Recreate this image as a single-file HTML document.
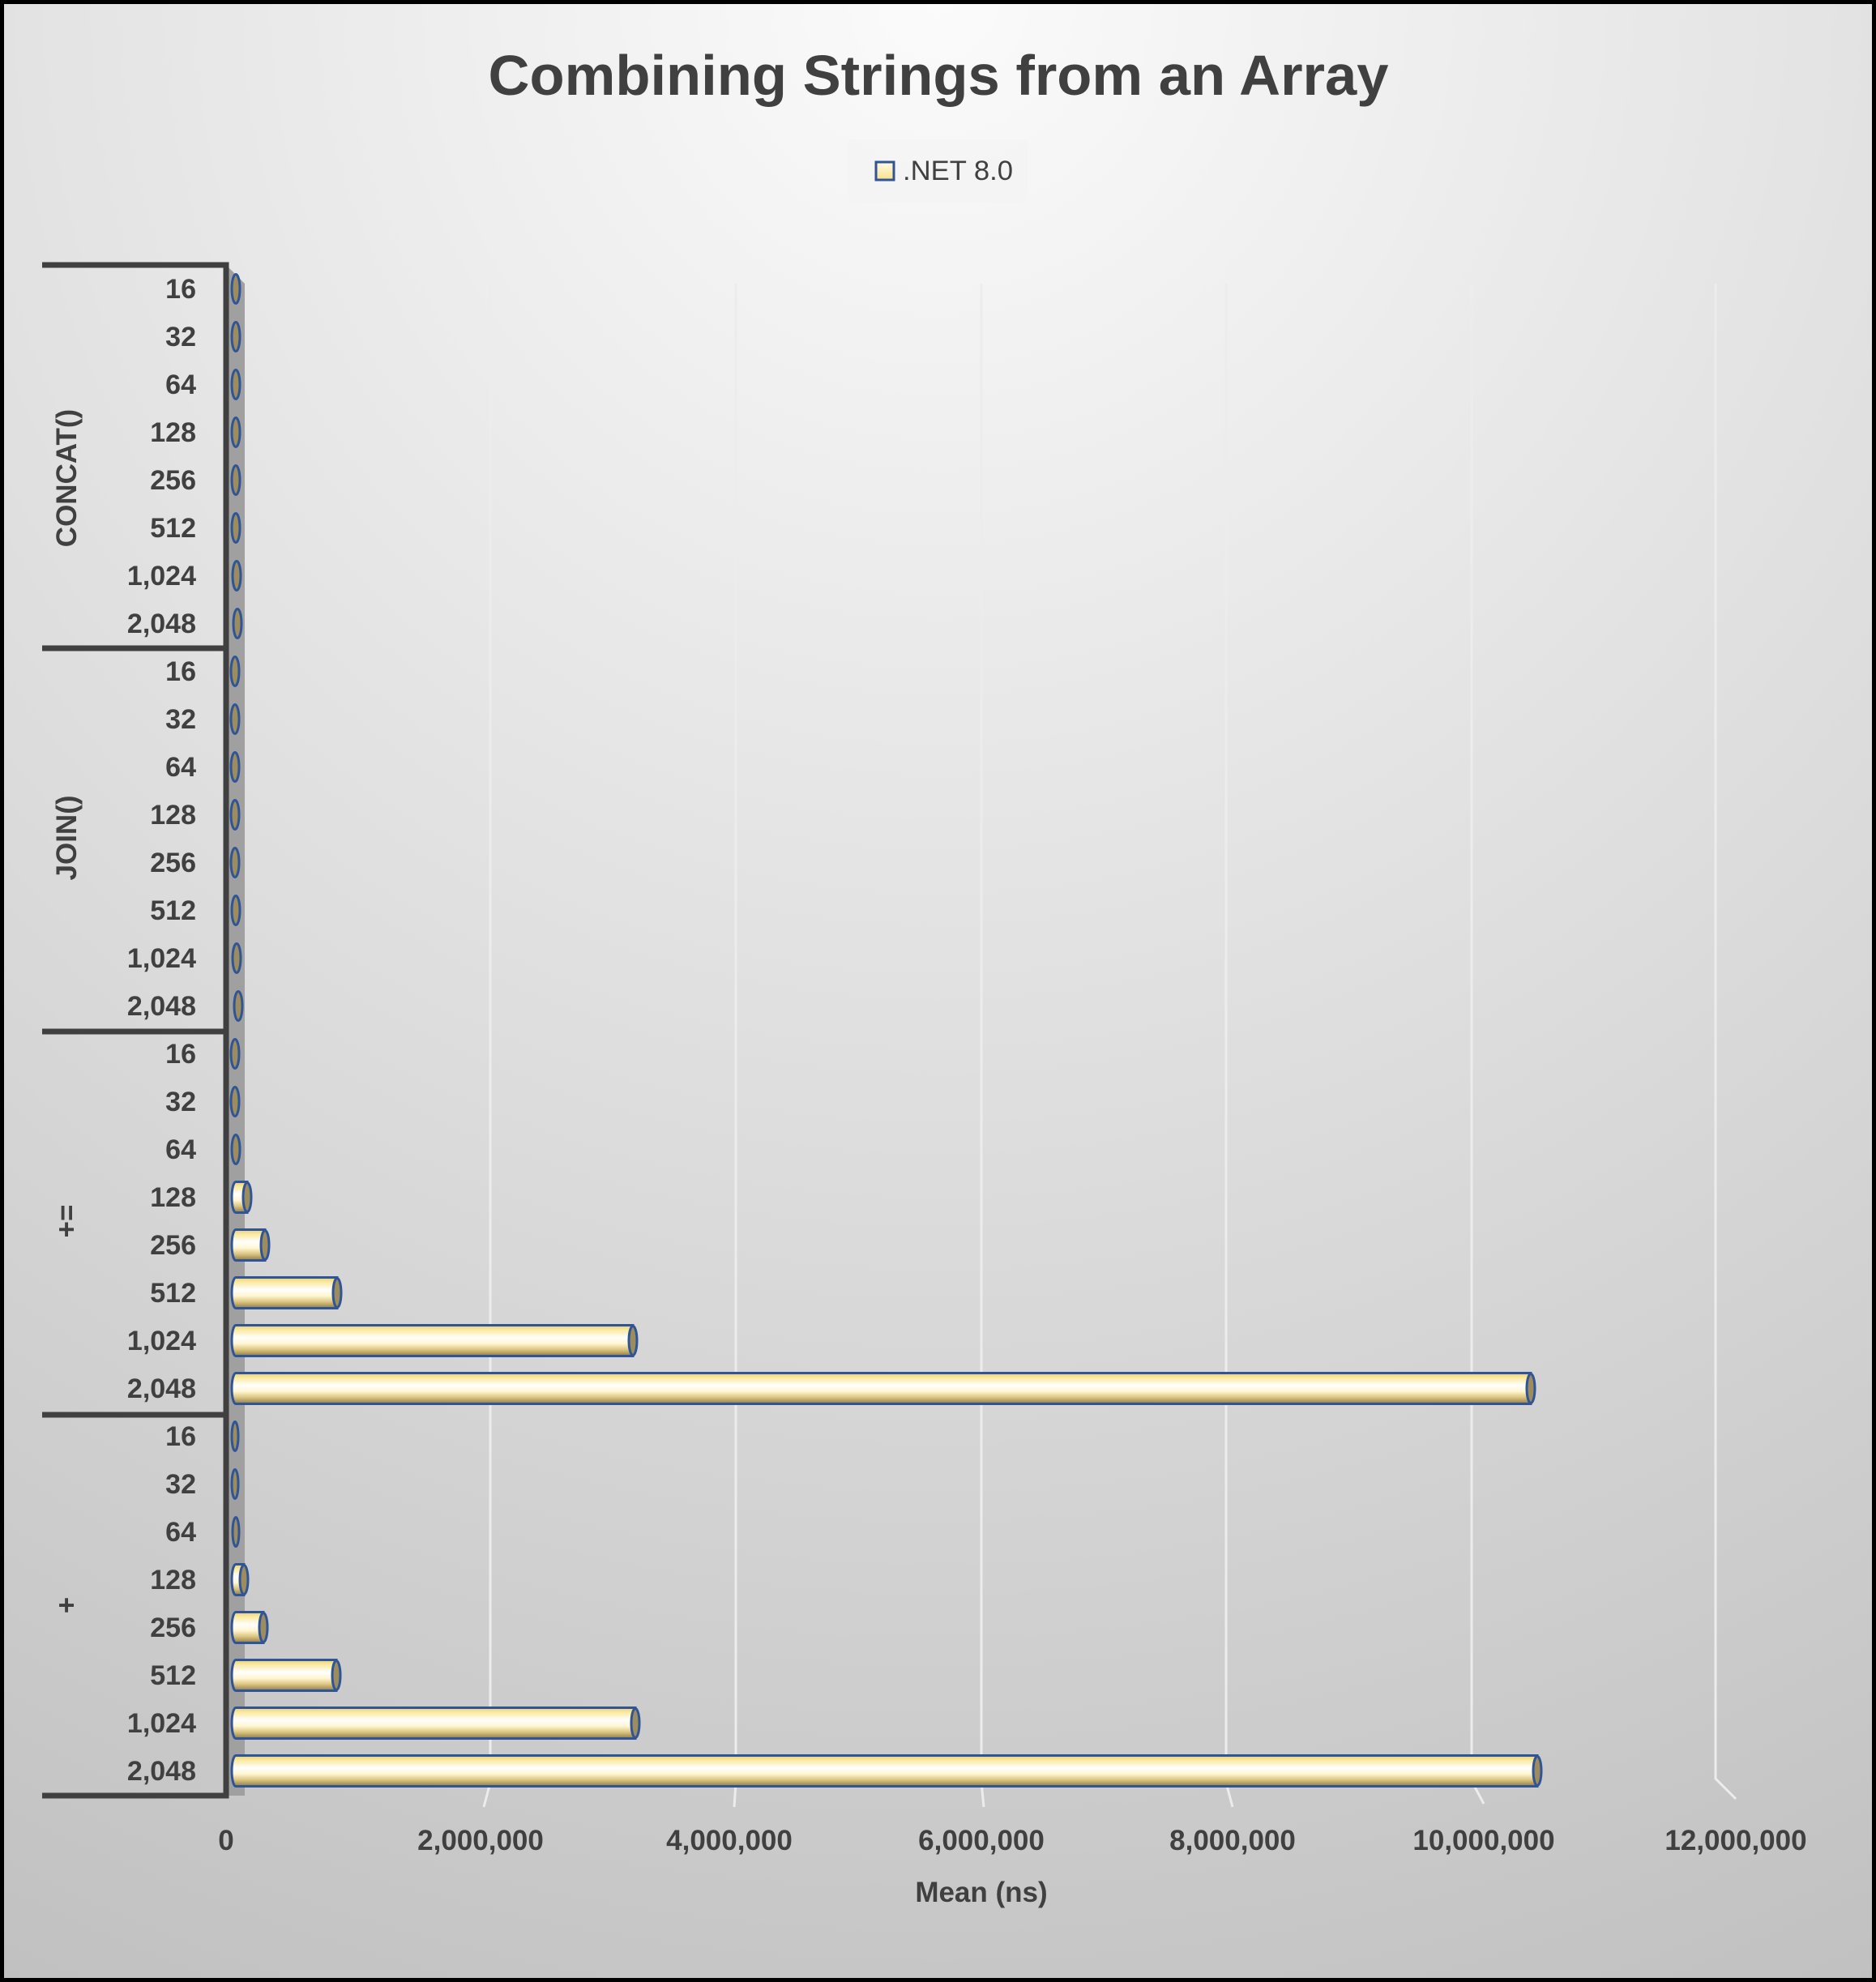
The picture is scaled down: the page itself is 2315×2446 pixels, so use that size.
<!DOCTYPE html>
<html><head><meta charset="utf-8"><style>
html,body{margin:0;padding:0;width:2315px;height:2446px;overflow:hidden}
svg{display:block}
text{font-family:"Liberation Sans",sans-serif;fill:#404040}
</style></head><body>
<svg width="2315" height="2446" viewBox="0 0 2315 2446" xmlns="http://www.w3.org/2000/svg">
<defs>
<radialGradient id="bg" cx="1158" cy="0" r="2900" gradientUnits="userSpaceOnUse">
<stop offset="0" stop-color="#fbfbfb"/><stop offset="0.5" stop-color="#dcdcdc"/><stop offset="1" stop-color="#bcbcbc"/>
</radialGradient>
<linearGradient id="bar" x1="0" y1="0" x2="0" y2="1">
<stop offset="0" stop-color="#e8cf78"/><stop offset="0.15" stop-color="#fbe9a0"/><stop offset="0.4" stop-color="#ffffff"/><stop offset="0.6" stop-color="#fff6d0"/><stop offset="0.8" stop-color="#d9c27c"/><stop offset="1" stop-color="#8c7a4c"/>
</linearGradient>
<linearGradient id="leg" x1="0" y1="0" x2="0" y2="1"><stop offset="0" stop-color="#fffbe6"/><stop offset="1" stop-color="#fbe08a"/></linearGradient>
</defs>
<rect x="0" y="0" width="2315" height="2446" fill="url(#bg)"/>
<rect x="2.5" y="2.5" width="2310" height="2441" fill="none" stroke="#000" stroke-width="5"/>
<text x="1158" y="117" font-size="70" font-weight="bold" text-anchor="middle" textLength="1111" lengthAdjust="spacingAndGlyphs">Combining Strings from an Array</text>
<rect x="1047" y="172" width="221" height="78" fill="#f4f4f4" opacity="0.7"/>
<rect x="1081" y="200" width="22" height="22" fill="url(#leg)" stroke="#2f5597" stroke-width="3"/>
<text x="1114" y="222" font-size="34" textLength="136" lengthAdjust="spacingAndGlyphs">.NET 8.0</text>
<g stroke="#ececec" stroke-width="3" fill="none">
<polyline points="605,350 605,2200 597,2230"/>
<polyline points="908,350 908,2200 906,2230"/>
<polyline points="1211,350 1211,2200 1214,2230"/>
<polyline points="1513,350 1513,2200 1521,2230"/>
<polyline points="1816,350 1816,2198 1831,2226"/>
<polyline points="2117,350 2117,2195 2142,2220"/>
</g>
<polygon points="279,327 302,350 302,2216 279,2216" fill="#a0a0a0"/>
<g font-size="35" font-weight="bold" text-anchor="middle">
<text x="279" y="2283">0</text><text x="593" y="2283">2,000,000</text><text x="900" y="2283">4,000,000</text><text x="1211" y="2283">6,000,000</text><text x="1521" y="2283">8,000,000</text><text x="1831" y="2283">10,000,000</text><text x="2142" y="2283">12,000,000</text>
<text x="1211" y="2347">Mean (ns)</text>
</g>
<g stroke="#404040" stroke-width="7" fill="none">
<polyline points="52,327 279,327 279,2216 52,2216"/>
<line x1="52" y1="800" x2="279" y2="800"/><line x1="52" y1="1273" x2="279" y2="1273"/><line x1="52" y1="1746" x2="279" y2="1746"/>
</g>
<g font-size="34" font-weight="bold" text-anchor="end">
<text x="242" y="368">16</text><text x="242" y="427">32</text><text x="242" y="486">64</text><text x="242" y="545">128</text><text x="242" y="604">256</text><text x="242" y="663">512</text><text x="242" y="722">1,024</text><text x="242" y="781">2,048</text>
<text x="242" y="840">16</text><text x="242" y="899">32</text><text x="242" y="958">64</text><text x="242" y="1017">128</text><text x="242" y="1076">256</text><text x="242" y="1135">512</text><text x="242" y="1194">1,024</text><text x="242" y="1253">2,048</text>
<text x="242" y="1312">16</text><text x="242" y="1371">32</text><text x="242" y="1430">64</text><text x="242" y="1489">128</text><text x="242" y="1548">256</text><text x="242" y="1607">512</text><text x="242" y="1666">1,024</text><text x="242" y="1725">2,048</text>
<text x="242" y="1784">16</text><text x="242" y="1843">32</text><text x="242" y="1902">64</text><text x="242" y="1961">128</text><text x="242" y="2020">256</text><text x="242" y="2079">512</text><text x="242" y="2138">1,024</text><text x="242" y="2197">2,048</text>
</g>
<g font-size="35" font-weight="bold" text-anchor="middle">
<text transform="translate(94,590) rotate(-90)">CONCAT()</text>
<text transform="translate(94,1034) rotate(-90)">JOIN()</text>
<text transform="translate(94,1507) rotate(-90)">+=</text>
<text transform="translate(94,1981) rotate(-90)">+</text>
</g>
<g fill="url(#bar)" stroke="#2f5597" stroke-width="3">
<path d="M291,1458.5 L305,1458.5 L305,1496.5 L291,1496.5 A5,19 0 0 1 291,1458.5Z"/>
<path d="M291,1517.5 L327,1517.5 L327,1555.5 L291,1555.5 A5,19 0 0 1 291,1517.5Z"/>
<path d="M291,1576.5 L416,1576.5 L416,1614.5 L291,1614.5 A5,19 0 0 1 291,1576.5Z"/>
<path d="M291,1635.5 L781,1635.5 L781,1673.5 L291,1673.5 A5,19 0 0 1 291,1635.5Z"/>
<path d="M291,1694.5 L1889,1694.5 L1889,1732.5 L291,1732.5 A5,19 0 0 1 291,1694.5Z"/>
<path d="M291,1930.5 L301,1930.5 L301,1968.5 L291,1968.5 A5,19 0 0 1 291,1930.5Z"/>
<path d="M291,1989.5 L325,1989.5 L325,2027.5 L291,2027.5 A5,19 0 0 1 291,1989.5Z"/>
<path d="M291,2048.5 L415,2048.5 L415,2086.5 L291,2086.5 A5,19 0 0 1 291,2048.5Z"/>
<path d="M291,2107.5 L784,2107.5 L784,2145.5 L291,2145.5 A5,19 0 0 1 291,2107.5Z"/>
<path d="M291,2166.5 L1897,2166.5 L1897,2204.5 L291,2204.5 A5,19 0 0 1 291,2166.5Z"/>
</g>
<g fill="#9c8c5e" stroke="#2f5597" stroke-width="3">
<ellipse cx="291" cy="356.5" rx="5" ry="18"/><ellipse cx="291" cy="415.5" rx="5" ry="18"/><ellipse cx="291" cy="474.5" rx="5" ry="18"/><ellipse cx="291" cy="533.5" rx="5" ry="18"/><ellipse cx="291" cy="592.5" rx="5" ry="18"/><ellipse cx="291" cy="651.5" rx="5" ry="18"/><ellipse cx="292" cy="710.5" rx="5" ry="18"/><ellipse cx="293" cy="769.5" rx="5" ry="18"/>
<ellipse cx="290" cy="828.5" rx="5" ry="18"/><ellipse cx="290" cy="887.5" rx="5" ry="18"/><ellipse cx="290" cy="946.5" rx="5" ry="18"/><ellipse cx="290" cy="1005.5" rx="5" ry="18"/><ellipse cx="290" cy="1064.5" rx="5" ry="18"/><ellipse cx="291" cy="1123.5" rx="5" ry="18"/><ellipse cx="292" cy="1182.5" rx="5" ry="18"/><ellipse cx="294" cy="1241.5" rx="5" ry="18"/>
<ellipse cx="290" cy="1300.5" rx="5" ry="18"/><ellipse cx="290" cy="1359.5" rx="5" ry="18"/><ellipse cx="291" cy="1418.5" rx="5" ry="18"/><ellipse cx="305" cy="1477.5" rx="5" ry="18"/><ellipse cx="327" cy="1536.5" rx="5" ry="18"/><ellipse cx="416" cy="1595.5" rx="5" ry="18"/><ellipse cx="781" cy="1654.5" rx="5" ry="18"/><ellipse cx="1889" cy="1713.5" rx="5" ry="18"/>
<ellipse cx="290" cy="1772.5" rx="4" ry="18"/><ellipse cx="290" cy="1831.5" rx="4" ry="18"/><ellipse cx="291" cy="1890.5" rx="4" ry="18"/><ellipse cx="301" cy="1949.5" rx="5" ry="18"/><ellipse cx="325" cy="2008.5" rx="5" ry="18"/><ellipse cx="415" cy="2067.5" rx="5" ry="18"/><ellipse cx="784" cy="2126.5" rx="5" ry="18"/><ellipse cx="1897" cy="2185.5" rx="5" ry="18"/>
</g>
</svg>
</body></html>
